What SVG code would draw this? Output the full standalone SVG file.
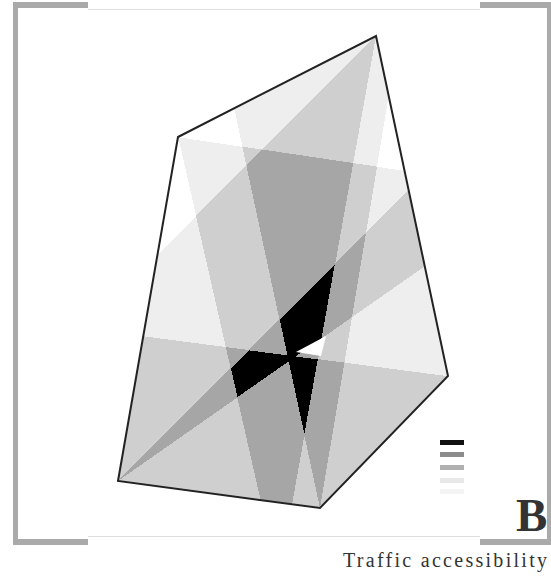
<svg xmlns="http://www.w3.org/2000/svg" width="551" height="582" viewBox="0 0 551 582">
  <style>
    .band { fill: #000; fill-opacity: 0.22; }
    .bar { fill: #aaaaaa; }
    .thin { stroke: #dddddd; stroke-width: 1.2; fill: none; }
    .cap { font-family: "Liberation Serif", "Times New Roman", serif; fill: #333; }
  </style>
  <defs>
    <clipPath id="area">
      <polygon points="178,137 376,36 448,376 320,508 118,481"/>
    </clipPath>
    <filter id="levels" filterUnits="userSpaceOnUse" x="0" y="0" width="551" height="582" color-interpolation-filters="sRGB">
      <feComponentTransfer>
        <feFuncA type="discrete" tableValues="0 0 0 0.07 0.07 0.07 0.19 0.19 0.19 0.35 0.35 0.35 1 1 1 1 1 1 1 1"/>
      </feComponentTransfer>
      <feGaussianBlur stdDeviation="0.6"/>
    </filter>
  </defs>
  <rect width="551" height="582" fill="#ffffff"/>

  <g id="frame">
    <rect class="bar" x="13" y="2" width="75" height="6"/>
    <rect class="bar" x="480" y="2" width="71" height="6"/>
    <rect class="bar" x="13" y="2" width="5" height="543"/>
    <rect class="bar" x="547" y="2" width="4" height="543"/>
    <rect class="bar" x="13" y="539" width="75" height="6"/>
    <rect class="bar" x="480" y="539" width="71" height="6"/>
    <line class="thin" x1="88" y1="9.5" x2="480" y2="9.5"/>
    <line class="thin" x1="88" y1="536.5" x2="480" y2="536.5"/>
  </g>

  <g id="zones" clip-path="url(#area)">
    <g filter="url(#levels)">
      <polygon class="band" points="178,137 500,185 500,570 272,550"/>
      <polygon class="band" points="376,36 100,312 100,560 282,560"/>
      <polygon class="band" points="320,508 210.7,0 405,0"/>
      <polygon class="band" points="118,481 480,119 480,227.6"/>
      <polygon class="band" points="100,330.6 480,380.3 480,560 100,560"/>
    </g>
    <polygon points="296,352 326,336 321,356" fill="#ffffff"/>
  </g>

  <g id="outline">
    <polygon points="178,137 376,36 448,376 320,508 118,481" fill="none" stroke="#222" stroke-width="2" stroke-linejoin="miter"/>
  </g>

  <g id="legend">
    <rect x="440" y="440" width="24" height="5" fill="#111111"/>
    <rect x="440" y="452" width="24" height="5" fill="#8c8c8c"/>
    <rect x="440" y="465" width="24" height="5" fill="#b0b0b0"/>
    <rect x="440" y="478" width="24" height="5" fill="#e8e8e8"/>
    <rect x="440" y="489" width="24" height="5" fill="#f4f4f4"/>
  </g>

  <g id="labels">
    <text class="cap" x="516" y="531" font-size="47" font-weight="bold" fill="#111">B</text>
    <text class="cap" x="343" y="567" font-size="20" textLength="204" lengthAdjust="spacing">Traffic accessibility</text>
  </g>
</svg>
